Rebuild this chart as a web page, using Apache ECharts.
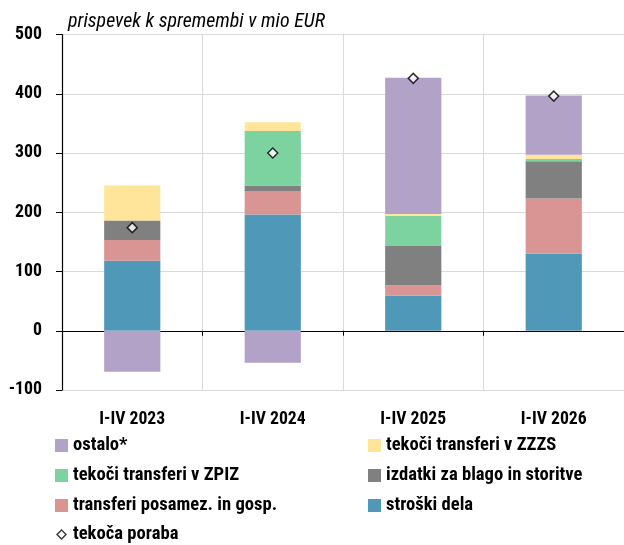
<!DOCTYPE html>
<html><head><meta charset="utf-8">
<script src="https://cdn.jsdelivr.net/npm/echarts@6/dist/echarts.min.js"></script>
<style>html,body{margin:0;padding:0;background:#fff}#c{width:624px;height:545px}</style>
</head><body><div id="c"></div>
<script>
const categories = ['I-IV 2023','I-IV 2024','I-IV 2025','I-IV 2026'];
const strociDela = [118, 196, 59, 130];
const transferiPosamez = [35, 40, 18, 93];
const izdatkiBlago = [33, 9, 66, 63];
const transferiZPIZ = [0, 92, 51, 4];
const transferiZZZS = [59, 15, 3, 7];
const ostalo = [-69, -54, 230, 100];
const tekocaPoraba = [174, 300, 426, 396];
const yTicks = [-100, 0, 100, 200, 300, 400, 500];

const FONT = '"Roboto Condensed", "DejaVu Sans Condensed", sans-serif';
const diamondIcon = 'image://data:image/svg+xml;utf8,' + encodeURIComponent('<svg xmlns="http://www.w3.org/2000/svg" width="13" height="13"><path d="M6.5 2 L11 6.5 L6.5 11 L2 6.5 Z" fill="#fff" stroke="#000" stroke-width="1.4"/></svg>');

const chart = echarts.init(document.getElementById('c'), null, {renderer:'canvas'});
function bar(name, data, color){
  return {name, type:'bar', stack:'s', data, barWidth:'40%', itemStyle:{color}, emphasis:{disabled:true}};
}
const legText = {fontFamily:FONT, fontWeight:'bold', fontSize:18.6, color:'#000'};
const legendItems = [
  ['ostalo*', 55, 447, 'rect'],
  ['tekoči transferi v ZPIZ', 55, 477, 'rect'],
  ['transferi posamez. in gosp.', 55, 507, 'rect'],
  ['tekoča poraba', 55, 536, diamondIcon],
  ['tekoči transferi v ZZZS', 368, 447, 'rect'],
  ['izdatki za blago in storitve', 368, 477, 'rect'],
  ['stroški dela', 368, 507, 'rect']
];
chart.setOption({
  animation:false,
  title:{text:'prispevek k spremembi v mio EUR', left:63, top:7,
    textStyle:{fontFamily:FONT, fontStyle:'italic', fontWeight:'normal', fontSize:19.9, color:'#000'}},
  grid:{left:62, right:-1, top:34.5, bottom:155},
  xAxis:{type:'category', data:categories,
    axisLine:{onZero:true, lineStyle:{color:'#000', width:1.2}},
    axisTick:{show:true, alignWithLabel:false, length:5, lineStyle:{color:'#000'}},
    axisLabel:{margin:21, fontFamily:FONT, fontWeight:'bold', fontSize:17.7, color:'#000'},
    splitLine:{show:true, lineStyle:{color:'#d9d9d9', width:1}}},
  yAxis:{type:'value', min:yTicks[0], max:yTicks[yTicks.length-1], interval:100,
    axisLine:{show:true, lineStyle:{color:'#000', width:1.2}},
    axisTick:{show:true, length:6, lineStyle:{color:'#000'}},
    axisLabel:{margin:20, fontFamily:FONT, fontWeight:'bold', fontSize:17.8, color:'#000'},
    splitLine:{show:true, lineStyle:{color:'#d9d9d9', width:1}}},
  legend: legendItems.map(([name, x, yc, icon]) => ({
    left:x, top:yc - 11, padding:0, itemWidth:13, itemHeight:13, itemGap:6,
    textStyle:legText, selectedMode:false, data:[{name, icon}]
  })),
  series:[
    bar('stroški dela', strociDela, '#4F98B8'),
    bar('transferi posamez. in gosp.', transferiPosamez, '#D99594'),
    bar('izdatki za blago in storitve', izdatkiBlago, '#808080'),
    bar('tekoči transferi v ZPIZ', transferiZPIZ, '#7CD3A0'),
    bar('tekoči transferi v ZZZS', transferiZZZS, '#FFE599'),
    bar('ostalo*', ostalo, '#B3A2C7'),
    {name:'tekoča poraba', type:'scatter', data:tekocaPoraba, symbol:'diamond', symbolSize:[10,10],
     itemStyle:{color:'#fff', borderColor:'#000', borderWidth:1.5}, z:5, emphasis:{disabled:true}}
  ]
});
</script></body></html>
